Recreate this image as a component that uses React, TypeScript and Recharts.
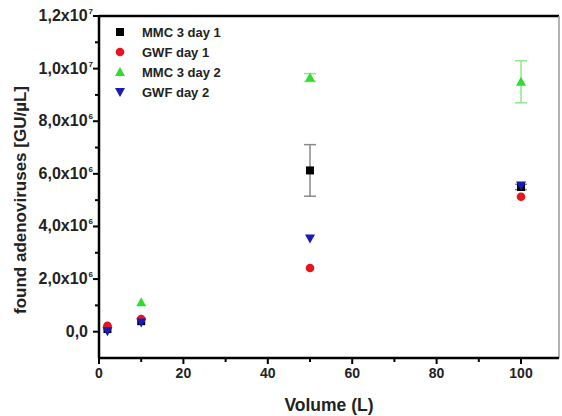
import React from 'react';
import { ScatterChart, Scatter, XAxis, YAxis, ErrorBar, ReferenceLine } from 'recharts';

const volumes = [2, 10, 50, 100];
const mmcDay1 = [0.1e6, 0.4e6, 6.13e6, 5.5e6];
const mmcDay1Err = [0, 0, 0.98e6, 0.1e6];
const gwfDay1 = [0.22e6, 0.48e6, 2.42e6, 5.13e6];
const mmcDay2: (number | null)[] = [null, 1.12e6, 9.66e6, 9.5e6];
const mmcDay2Err = [0, 0, 0.15e6, 0.8e6];
const gwfDay2 = [0.02e6, 0.35e6, 3.54e6, 5.56e6];

const xTicks = [0, 10, 20, 30, 40, 50, 60, 70, 80, 90, 100];
const yTicks = [0, 1e6, 2e6, 3e6, 4e6, 5e6, 6e6, 7e6, 8e6, 9e6, 10e6, 11e6, 12e6];

const seriesNames = ['MMC 3 day 1', 'GWF day 1', 'MMC 3 day 2', 'GWF day 2'];
const colors = ['#000000', '#e8151c', '#2fdc2f', '#1a1ab4'];

const build = (vals: (number | null)[], errs?: number[]) =>
  volumes
    .map((v, i) => ({ x: v, y: vals[i], err: errs ? errs[i] : 0 }))
    .filter((d) => d.y !== null);

const FONT = "'Liberation Sans', Arial, sans-serif";

const Square = (p: any) => <rect x={p.cx - 4} y={p.cy - 4} width={8} height={8} fill={p.fill} />;
const Circle = (p: any) => <circle cx={p.cx} cy={p.cy} r={4.3} fill={p.fill} />;
const TriUp = (p: any) => (
  <path d={`M${p.cx},${p.cy - 5} L${p.cx + 5},${p.cy + 4} L${p.cx - 5},${p.cy + 4} Z`} fill={p.fill} />
);
const TriDown = (p: any) => (
  <path d={`M${p.cx},${p.cy + 5} L${p.cx + 5},${p.cy - 4} L${p.cx - 5},${p.cy - 4} Z`} fill={p.fill} />
);
const shapes = [Square, Circle, TriUp, TriDown];

const fmtY = (v: number) => {
  if (v === 0) return { base: '0,0', exp: '' };
  const exp = Math.floor(Math.log10(v) + 1e-9);
  const mant = v / Math.pow(10, exp);
  return { base: mant.toFixed(1).replace('.', ',') + 'x10', exp: String(exp) };
};

const YTick = (props: any) => {
  const { x, y, payload } = props;
  const v = payload.value;
  const major = Math.round(v / 1e6) % 2 === 0;
  const { base, exp } = fmtY(v);
  return (
    <g>
      <line x1={x - (major ? 6 : 4)} x2={x} y1={y} y2={y} stroke="#000" strokeWidth={2} />
      {major && (
        <text
          x={exp ? x - 6 : x - 11}
          y={y}
          dy={5}
          textAnchor="end"
          fontSize={16}
          fontWeight="bold"
          fill="#222"
          fontFamily={FONT}
        >
          {base}
          {exp && (
            <tspan fontSize={8} dy={-7} dx={1}>
              {exp}
            </tspan>
          )}
        </text>
      )}
    </g>
  );
};

const XTick = (props: any) => {
  const { x, y, payload } = props;
  const v = payload.value;
  const major = v % 20 === 0;
  return (
    <g>
      <line x1={x} x2={x} y1={y - 1} y2={y + (major ? 6 : 4)} stroke="#000" strokeWidth={2} />
      {major && (
        <text x={x} y={y + 24} dy={-4} textAnchor="middle" fontSize={14} fontWeight="bold" fill="#222" fontFamily={FONT}>
          {v}
        </text>
      )}
    </g>
  );
};

const YLabel = () => (
  <text
    x={20}
    y={200}
    transform="rotate(-90 20 200)"
    textAnchor="middle"
    dominantBaseline="central"
    fontFamily={FONT}
    fontWeight="bold"
    fontSize={17}
    fill="#222"
  >
    found adenoviruses [GU/µL]
  </text>
);

const LegendBox = () => (
  <div
    style={{
      position: 'absolute',
      left: 110,
      top: 22,
      fontFamily: FONT,
      fontWeight: 'bold',
      fontSize: 13,
      color: '#222',
    }}
  >
    {seriesNames.map((n, i) => {
      const S = shapes[i];
      return (
        <div key={n} style={{ display: 'flex', alignItems: 'center', height: 20 }}>
          <svg width={20} height={20} style={{ marginRight: 12 }}>
            <S cx={10} cy={10} fill={colors[i]} />
          </svg>
          <span>{n}</span>
        </div>
      );
    })}
  </div>
);

export default function App() {
  const datasets = [build(mmcDay1, mmcDay1Err), build(gwfDay1), build(mmcDay2, mmcDay2Err), build(gwfDay2)];
  return (
    <div style={{ position: 'absolute', left: 0, top: 0, width: 562, height: 416, background: '#fff' }}>
      <ScatterChart width={562} height={416} margin={{ top: 16, right: 3, bottom: 0, left: 0 }}>
        <XAxis
          type="number"
          dataKey="x"
          domain={[0, 109]}
          ticks={xTicks}
          allowDataOverflow
          tickSize={0}
          tickMargin={0}
          tickLine={false}
          tick={<XTick />}
          height={58}
          axisLine={{ stroke: '#000', strokeWidth: 2.5 }}
          label={{
            value: 'Volume (L)',
            position: 'insideBottom',
            offset: 5,
            style: { fontFamily: FONT, fontWeight: 'bold', fontSize: 17.5, fill: '#222' },
          }}
        />
        <YAxis
          type="number"
          dataKey="y"
          domain={[-1e6, 12e6]}
          ticks={yTicks}
          allowDataOverflow
          tickSize={0}
          tickMargin={0}
          tickLine={false}
          tick={<YTick />}
          width={99}
          axisLine={{ stroke: '#000', strokeWidth: 2.5 }}
          label={<YLabel />}
        />
        <ReferenceLine y={12e6} stroke="#000" strokeWidth={2.5} />
        <ReferenceLine x={109} stroke="#999" strokeWidth={1.5} />
        {datasets.map((d, i) => {
          const S = shapes[i];
          return (
            <Scatter
              key={seriesNames[i]}
              name={seriesNames[i]}
              data={d}
              fill={colors[i]}
              isAnimationActive={false}
              shape={(p: any) => <S cx={p.cx} cy={p.cy} fill={colors[i]} />}
            >
              {(i === 0 || i === 2) && (
                <ErrorBar
                  dataKey="err"
                  direction="y"
                  width={6}
                  stroke={i === 0 ? '#8a8a8a' : '#8fe88f'}
                  strokeWidth={1.5}
                />
              )}
            </Scatter>
          );
        })}
      </ScatterChart>
      <LegendBox />
    </div>
  );
}
